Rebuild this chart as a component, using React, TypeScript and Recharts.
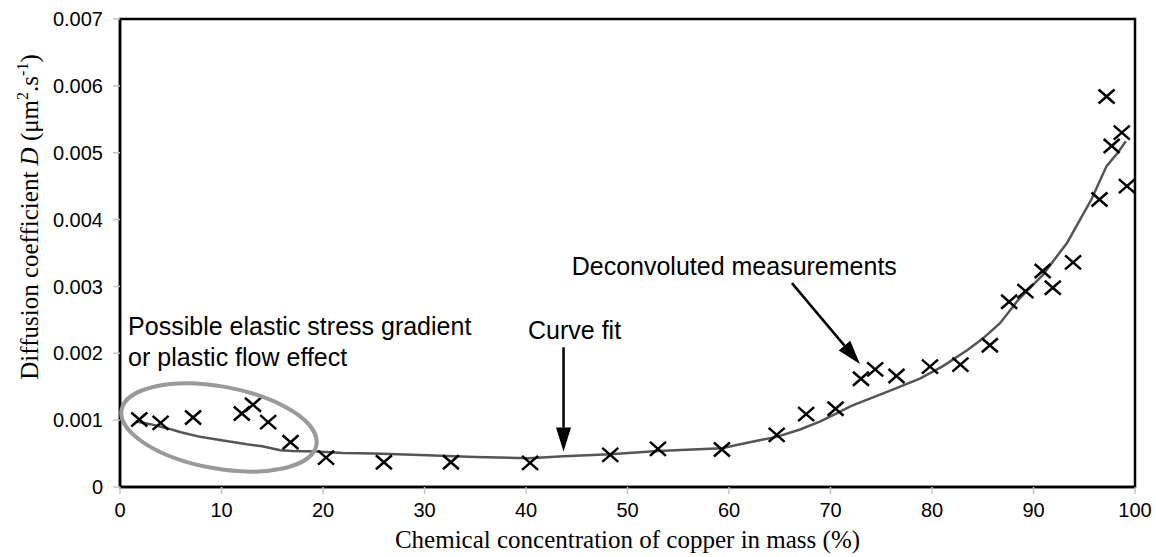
import { ComposedChart, Line, ReferenceArea, ReferenceDot, ReferenceLine, Scatter, XAxis, YAxis } from "recharts";

const measConc = [1.9, 4.0, 7.2, 12.0, 13.1, 14.6, 16.8, 20.3, 26.0, 32.6, 40.4, 48.3, 53.0, 59.3, 64.7, 67.6, 70.5, 73.0, 74.4, 76.5, 79.8, 82.8, 85.7, 87.6, 89.2, 90.9, 91.9, 93.9, 96.5, 97.2, 97.7, 98.7, 99.2];
const measD = [0.00101, 0.00096, 0.00104, 0.0011, 0.00123, 0.00097, 0.00067, 0.00044, 0.00037, 0.00037, 0.00036, 0.00048, 0.00057, 0.00056, 0.00078, 0.00109, 0.00117, 0.00162, 0.00176, 0.00166, 0.0018, 0.00183, 0.00212, 0.00277, 0.00293, 0.00323, 0.00298, 0.00336, 0.0043, 0.00584, 0.0051, 0.0053, 0.0045];

const fitConc = [1.6, 3, 4.6, 6, 7.9, 10, 12.5, 14, 15.8, 17, 19.4, 22, 25, 29.6, 35, 40.3, 43.7, 48.3, 53, 59.3, 61.1, 63, 64.7, 67, 69, 70.6, 72, 74, 76, 78.8, 81, 83.5, 85, 86.7, 88.5, 90.9, 93.3, 95.7, 97.2, 98.3, 99.1];
const fitD = [0.00098, 0.00094, 0.00088, 0.00082, 0.00075, 0.0007, 0.00064, 0.00061, 0.00055, 0.00054, 0.00053, 0.00051, 0.0005, 0.00048, 0.00045, 0.00043, 0.00046, 0.00049, 0.00054, 0.00058, 0.00064, 0.0007, 0.00075, 0.00086, 0.00098, 0.0011, 0.00121, 0.00133, 0.00145, 0.00162, 0.0018, 0.00205, 0.00222, 0.00245, 0.0028, 0.00317, 0.00365, 0.0043, 0.0048, 0.005, 0.00517];

const xTicks = [0, 10, 20, 30, 40, 50, 60, 70, 80, 90, 100];
const yTicks = [0, 0.001, 0.002, 0.003, 0.004, 0.005, 0.006, 0.007];

const measured = measConc.map((x, i) => ({ x, d: measD[i] }));
const fitted = fitConc.map((x, i) => ({ x, d: fitD[i] }));

// annotation anchors, in data units
const notes = [
  { x: 0.8, y: 0.00227, text: "Possible elastic stress gradient" },
  { x: 0.8, y: 0.00181, text: "or plastic flow effect" },
  { x: 40.2, y: 0.00221, text: "Curve fit" },
  { x: 44.5, y: 0.00317, text: "Deconvoluted measurements" },
];
const arrows = [
  { from: { x: 43.7, y: 0.00209 }, to: { x: 43.7, y: 0.00053 } },
  { from: { x: 66.2, y: 0.00305 }, to: { x: 72.9, y: 0.00184 } },
];

const sans = "'Liberation Sans', Arial, sans-serif";
const serif = "'Liberation Serif', 'Times New Roman', serif";

const Cross = (p: any) => {
  const { cx, cy } = p;
  return <g stroke="#000" strokeWidth={2.5}>
    <line x1={cx - 8} y1={cy - 7} x2={cx + 8} y2={cy + 7} />
    <line x1={cx - 8} y1={cy + 7} x2={cx + 8} y2={cy - 7} />
  </g>;
};

const Arrow = (p: any) => {
  const { x1, y1, x2, y2 } = p;
  const a = Math.atan2(y2 - y1, x2 - x1);
  const len = 24, hw = 7.5;
  const bx = x2 - len * Math.cos(a), by = y2 - len * Math.sin(a);
  const nx = -Math.sin(a) * hw, ny = Math.cos(a) * hw;
  return <g>
    <line x1={x1} y1={y1} x2={bx} y2={by} stroke="#000" strokeWidth={2.5} />
    <polygon points={`${x2},${y2} ${bx + nx},${by + ny} ${bx - nx},${by - ny}`} fill="#000" />
  </g>;
};

const YTitle = ({ viewBox }: any) => {
  const x = viewBox.x + 38, y = 217;
  return <text x={x} y={y} transform={`rotate(-90 ${x} ${y})`} textAnchor="middle" fontFamily={serif} fontSize={25} fill="#000">
    Diffusion coefficient <tspan fontStyle="italic">D</tspan> (μm<tspan fontSize={16} dy={-10}>2</tspan><tspan dy={10}>.s</tspan><tspan fontSize={16} dy={-10}>-1</tspan><tspan dy={10}>)</tspan>
  </text>;
};

const XTitle = ({ viewBox }: any) =>
  <text x={viewBox.x + viewBox.width / 2} y={548} textAnchor="middle" fontFamily={serif} fontSize={25} fill="#000">
    Chemical concentration of copper in mass (%)
  </text>;

export default function App() {
  return <div style={{ width: 1156, height: 557 }}>
    <style>{"body{margin:0}"}</style>
    <ComposedChart width={1156} height={557} margin={{ top: 19, right: 21, bottom: 0, left: 0 }}>
      <XAxis type="number" dataKey="x" domain={[0, 100]} ticks={xTicks} allowDataOverflow
        height={70} tickSize={7} tickMargin={9}
        tick={{ fill: "#000", fontSize: 20, fontFamily: sans }}
        tickLine={{ stroke: "#c4c4c4", strokeWidth: 1.5 }} axisLine={{ stroke: "#000", strokeWidth: 2.5 }}
        label={{ content: (props: any) => <XTitle viewBox={props.viewBox} /> }} />
      <YAxis type="number" domain={[0, 0.007]} ticks={yTicks} allowDataOverflow
        width={120} tickSize={7} tickMargin={10}
        tickFormatter={(v: number) => (v === 0 ? "0" : v.toFixed(3))}
        tick={{ fill: "#000", fontSize: 20, fontFamily: sans }}
        tickLine={{ stroke: "#c4c4c4", strokeWidth: 1.5 }} axisLine={{ stroke: "#000", strokeWidth: 2.5 }}
        label={{ content: (props: any) => <YTitle viewBox={props.viewBox} /> }} />
      <ReferenceArea x1={0} x2={100} y1={0} y2={0.007} fill="none" fillOpacity={0} stroke="#000" strokeWidth={2.5} />
      <Scatter data={measured} dataKey="d" shape={Cross} isAnimationActive={false} />
      <Line data={fitted} dataKey="d" type="linear" stroke="#555" strokeWidth={2.5} dot={false} activeDot={false} isAnimationActive={false} />
      <ReferenceDot x={9.75} y={0.00089} r={0} shape={(p: any) =>
        <ellipse cx={p.cx} cy={p.cy} rx={99} ry={41} transform={`rotate(10.25 ${p.cx} ${p.cy})`} fill="none" stroke="#9a9a9a" strokeWidth={4} />} />
      {arrows.map((a, i) => <ReferenceLine key={i} segment={[a.from, a.to]} shape={Arrow} />)}
      {notes.map((n) => <ReferenceDot key={n.text} x={n.x} y={n.y} r={0} shape={(p: any) =>
        <text x={p.cx} y={p.cy} fontFamily={sans} fontSize={25} fill="#000">{n.text}</text>} />)}
    </ComposedChart>
  </div>;
}
